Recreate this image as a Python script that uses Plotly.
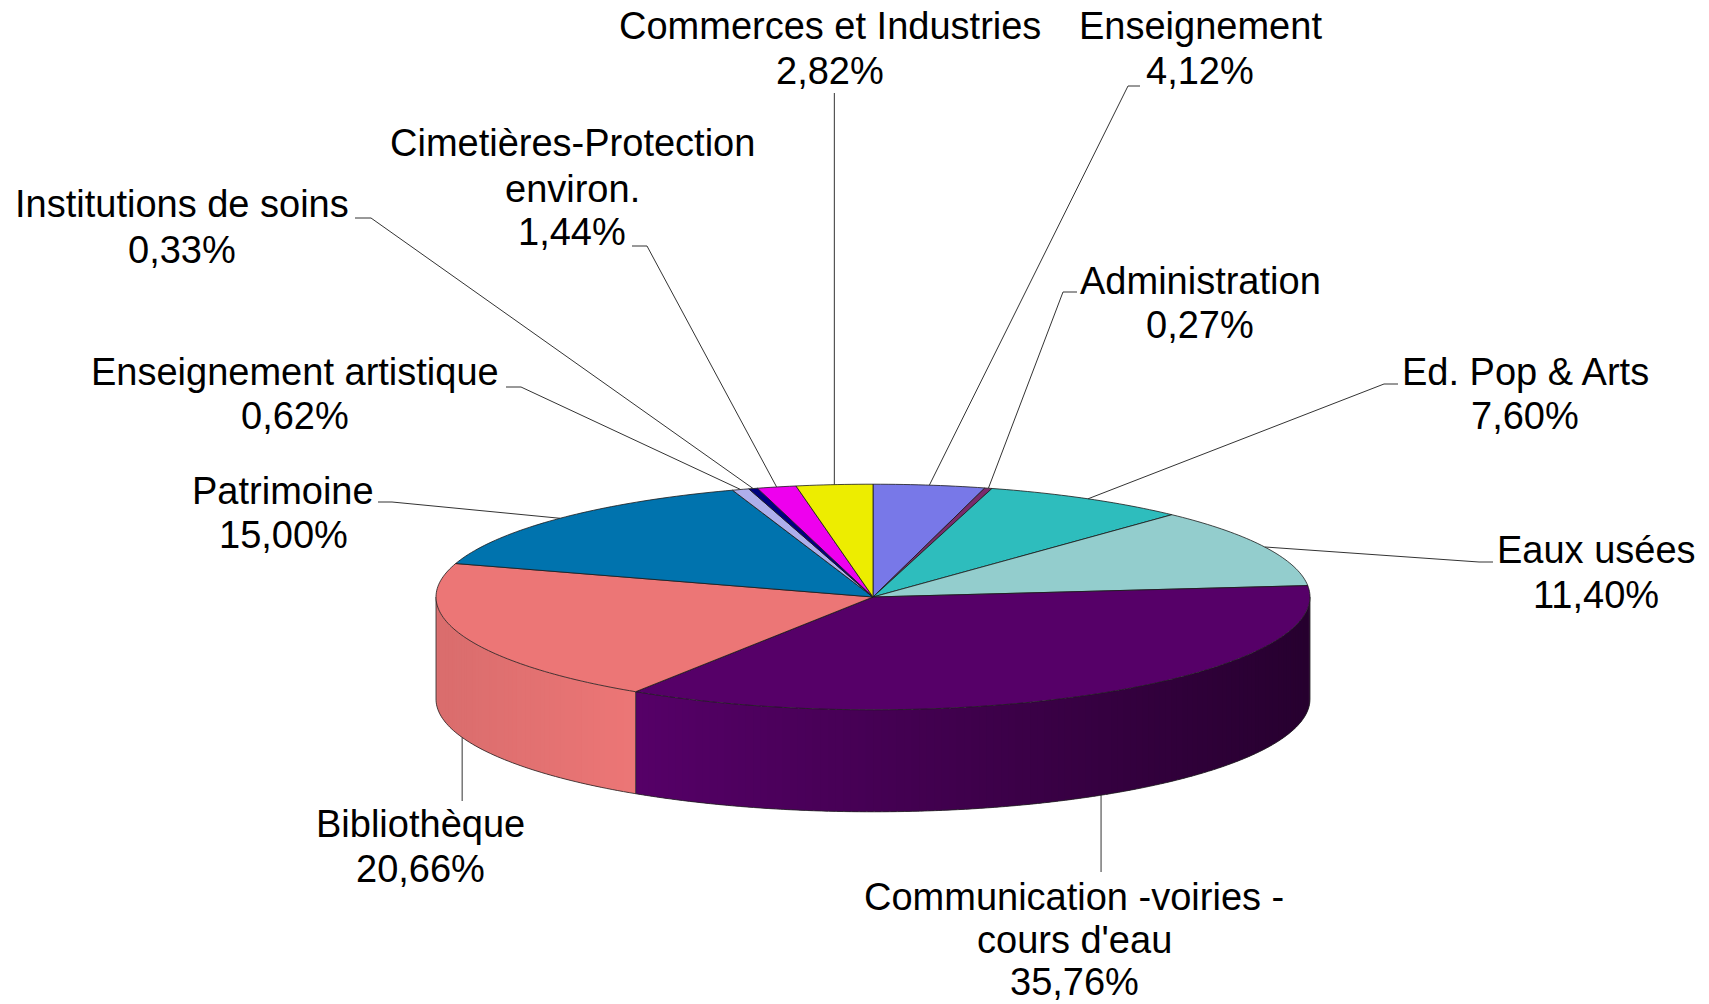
import numpy as np
import plotly.graph_objects as go

# ---------------- data ----------------
categories = [
    "Enseignement",
    "Administration",
    "Ed. Pop & Arts",
    "Eaux usées",
    "Communication -voiries -|cours d'eau",
    "Bibliothèque",
    "Patrimoine",
    "Enseignement artistique",
    "Institutions de soins",
    "Cimetières-Protection|environ.",
    "Commerces et Industries",
]
values = [4.12, 0.27, 7.60, 11.40, 35.76, 20.66, 15.00, 0.62, 0.33, 1.44, 2.82]

# ---------------- styles ----------------
colors = ["#7878E8", "#7A2A6C", "#2EBDBD", "#93CDCD", "#560068", "#EC7676",
          "#0073AE", "#AEAEEB", "#00007F", "#EE00EE", "#EDED00"]

# geometry of the 3D pie (in axis units = pixels)
CX, CY, RX, RY, DEPTH = 873.0, 597.0, 437.0, 112.8, 102.0

# label layout: center x, y of each line; leader end (elbow) points
label_pos = [
    dict(x=1200, ys=[26, 71], leader=[(1128, 86), (1140, 86)]),
    dict(x=1200, ys=[281, 325], leader=[(1063, 292), (1077, 292)]),
    dict(x=1525, ys=[372, 416], leader=[(1384, 384), (1398, 384)]),
    dict(x=1596, ys=[550, 595], leader=[(1479, 562), (1493, 562)]),
    dict(x=1074, ys=[897, 940, 982], leader="vbottom", yend=872),
    dict(x=420, ys=[824, 869], leader="vbottom", yend=801),
    dict(x=283, ys=[491, 535], leader=[(392, 502), (378, 502)]),
    dict(x=295, ys=[372, 416], leader=[(521, 387), (506, 387)]),
    dict(x=182, ys=[204, 250], leader=[(371, 218), (355, 218)]),
    dict(x=572, ys=[143, 189, 232], leader=[(647, 246), (632, 246)]),
    dict(x=830, ys=[26, 71], leader="vtop", yend=93),
]

FONT = dict(family="Liberation Sans, Arial, sans-serif", size=38, color="#000000")


def pt(theta, dz=0.0):
    return CX + RX * np.sin(theta), CY - RY * np.cos(theta) + dz


def hex_rgb(h):
    h = h.lstrip("#")
    return tuple(int(h[i:i + 2], 16) for i in (0, 2, 4))


def shade(h, f):
    r, g, b = hex_rgb(h)
    return "rgb(%d,%d,%d)" % tuple(max(0, min(255, round(c * f))) for c in (r, g, b))


def shade_factor(s):
    if s < -0.55:
        return 1.0 - 0.08 * (-0.55 - s) / 0.45
    return 1.0 - 0.55 * (s + 0.55) / 1.55


total = float(sum(values))
fracs = np.cumsum([0.0] + list(values)) / total
angles = 2 * np.pi * fracs

shapes = []

# ---- side (front wall) ----
for i, col in enumerate(colors):
    a0, a1 = angles[i], angles[i + 1]
    lo, hi = max(a0, np.pi / 2), min(a1, 3 * np.pi / 2)
    if hi <= lo:
        continue
    n = max(2, int(np.ceil((hi - lo) / np.radians(1.0))))
    ts = np.linspace(lo, hi, n + 1)
    step = ts[1] - ts[0]
    for t0, t1 in zip(ts[:-1], ts[1:]):
        t1e = min(hi, t1 + 0.8 * step)
        sub = np.linspace(t0, t1e, 4)
        xs, ys = pt(sub)
        top = ["%.2f,%.2f" % (a, b) for a, b in zip(xs, ys)]
        bot = ["%.2f,%.2f" % (a, b + DEPTH) for a, b in zip(xs[::-1], ys[::-1])]
        c = shade(col, shade_factor(np.sin((t0 + t1) / 2)))
        path = "M " + " L ".join(top + bot) + " Z"
        shapes.append(dict(type="path", path=path, xref="x", yref="y",
                           fillcolor=c, line=dict(width=0), layer="above"))

# side outlines: bottom arc, silhouettes, slice boundaries
ts = np.linspace(np.pi / 2, 3 * np.pi / 2, 200)
bx, by = pt(ts, DEPTH)
p = "M " + " L ".join("%.2f,%.2f" % (a, b) for a, b in zip(bx, by))
shapes.append(dict(type="path", path=p, xref="x", yref="y",
                   line=dict(color="#222222", width=0.8), layer="above"))
for a in list(angles[1:-1]) + [np.pi / 2, 3 * np.pi / 2]:
    if np.pi / 2 <= a <= 3 * np.pi / 2:
        x0, y0 = pt(a)
        shapes.append(dict(type="line", xref="x", yref="y", x0=x0, y0=y0, x1=x0, y1=y0 + DEPTH,
                           line=dict(color="#222222", width=0.8), layer="above"))

# ---- top face ----
for i, col in enumerate(colors):
    a0, a1 = angles[i], angles[i + 1]
    n = max(2, int(np.ceil((a1 - a0) / np.radians(1.0))))
    ts = np.linspace(a0, a1, n + 1)
    xs, ys = pt(ts)
    p = "M %.2f,%.2f L " % (CX, CY) + " L ".join("%.2f,%.2f" % (a, b) for a, b in zip(xs, ys)) + " Z"
    shapes.append(dict(type="path", path=p, xref="x", yref="y", fillcolor=col,
                       line=dict(color="#1a1a1a", width=0.8), layer="above"))

# ---- leader lines & labels ----
annotations = []
for i, lp in enumerate(label_pos):
    mid = (angles[i] + angles[i + 1]) / 2
    if lp["leader"] == "vbottom":
        x0, y0 = pt(mid, DEPTH)
        p = "M %.2f,%.2f L %.2f,%.2f" % (x0, y0, x0, lp["yend"])
    elif lp["leader"] == "vtop":
        x0, y0 = pt(mid)
        p = "M %.2f,%.2f L %.2f,%.2f" % (x0, y0, x0, lp["yend"])
    else:
        x0, y0 = pt(mid)
        (ex, ey), (tx, ty) = lp["leader"]
        p = "M %.2f,%.2f L %.2f,%.2f L %.2f,%.2f" % (x0, y0, ex, ey, tx, ty)
    shapes.append(dict(type="path", path=p, xref="x", yref="y",
                       line=dict(color="#333333", width=1), layer="above"))

    lines = categories[i].split("|") + [("%.2f%%" % values[i]).replace(".", ",")]
    for txt, yy in zip(lines, lp["ys"]):
        annotations.append(dict(x=lp["x"], y=yy, xref="x", yref="y", text=txt,
                                showarrow=False, xanchor="center", yanchor="middle",
                                font=FONT))

fig = go.Figure()
fig.add_trace(go.Scatter(x=[0, 1709], y=[0, 1004], mode="markers",
                         marker=dict(opacity=0), hoverinfo="skip", showlegend=False))
fig.update_layout(
    width=1709, height=1004,
    margin=dict(l=0, r=0, t=0, b=0),
    paper_bgcolor="white", plot_bgcolor="white",
    xaxis=dict(range=[0, 1709], visible=False, fixedrange=True),
    yaxis=dict(range=[1004, 0], visible=False, fixedrange=True),
    shapes=shapes, annotations=annotations, showlegend=False,
)
fig.write_html("out.html", config={"displayModeBar": False},
               post_script="document.body.style.margin='0px';document.body.style.overflow='hidden';")
